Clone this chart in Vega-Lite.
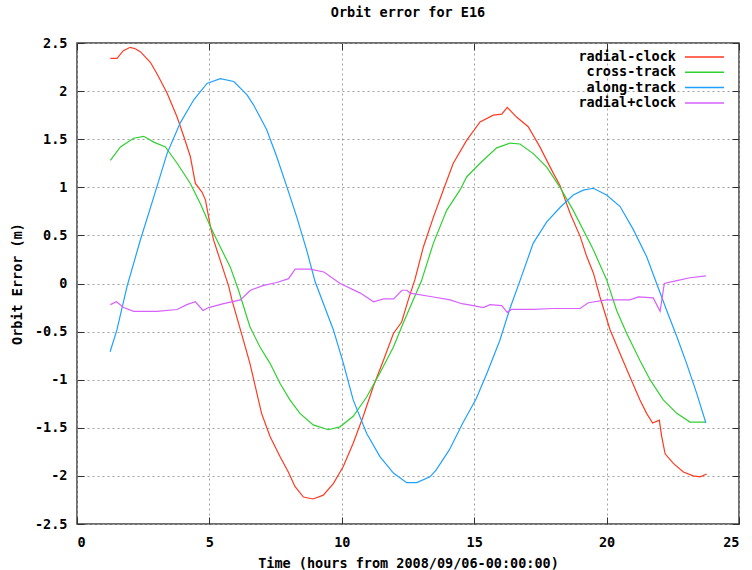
{
  "$schema": "https://vega.github.io/schema/vega-lite/v6.json",
  "width": 662,
  "height": 481,
  "autosize": {"type": "none"},
  "padding": {"left": 77, "top": 43, "right": 13, "bottom": 46},
  "background": "white",
  "title": {
    "text": "Orbit error for E16",
    "font": "DejaVu Sans Mono",
    "fontSize": 13.5,
    "fontWeight": "bold",
    "color": "#000000",
    "anchor": "middle",
    "offset": 17
  },
  "config": {
    "view": {"stroke": "#404040", "strokeWidth": 1.5},
    "axis": {
      "labelFont": "DejaVu Sans Mono",
      "labelFontSize": 13.5,
      "labelFontWeight": "bold",
      "labelColor": "#000000",
      "titleFont": "DejaVu Sans Mono",
      "titleFontSize": 13.5,
      "titleFontWeight": "bold",
      "titleColor": "#000000",
      "domain": false,
      "tickColor": "#303030",
      "tickSize": -7,
      "tickWidth": 1
    },
    "legend": {
      "labelFont": "DejaVu Sans Mono",
      "labelFontSize": 13.5,
      "labelFontWeight": "bold",
      "labelColor": "#000000"
    }
  },
  "data": {
    "values": [
      {"t": 1.26, "v": 2.34, "s": "radial-clock"},
      {"t": 1.51, "v": 2.34, "s": "radial-clock"},
      {"t": 1.75, "v": 2.42, "s": "radial-clock"},
      {"t": 2.01, "v": 2.455, "s": "radial-clock"},
      {"t": 2.2, "v": 2.44, "s": "radial-clock"},
      {"t": 2.39, "v": 2.41, "s": "radial-clock"},
      {"t": 2.77, "v": 2.3, "s": "radial-clock"},
      {"t": 3.02, "v": 2.18, "s": "radial-clock"},
      {"t": 3.4, "v": 1.98, "s": "radial-clock"},
      {"t": 3.78, "v": 1.73, "s": "radial-clock"},
      {"t": 4.03, "v": 1.53, "s": "radial-clock"},
      {"t": 4.28, "v": 1.32, "s": "radial-clock"},
      {"t": 4.47, "v": 1.04, "s": "radial-clock"},
      {"t": 4.72, "v": 0.95, "s": "radial-clock"},
      {"t": 4.85, "v": 0.87, "s": "radial-clock"},
      {"t": 5.04, "v": 0.59, "s": "radial-clock"},
      {"t": 5.16, "v": 0.45, "s": "radial-clock"},
      {"t": 5.41, "v": 0.24, "s": "radial-clock"},
      {"t": 5.73, "v": -0.03, "s": "radial-clock"},
      {"t": 5.85, "v": -0.17, "s": "radial-clock"},
      {"t": 6.17, "v": -0.48, "s": "radial-clock"},
      {"t": 6.53, "v": -0.83, "s": "radial-clock"},
      {"t": 6.97, "v": -1.35, "s": "radial-clock"},
      {"t": 7.29, "v": -1.59, "s": "radial-clock"},
      {"t": 7.67, "v": -1.8, "s": "radial-clock"},
      {"t": 7.98, "v": -1.96, "s": "radial-clock"},
      {"t": 8.23, "v": -2.11, "s": "radial-clock"},
      {"t": 8.55, "v": -2.22, "s": "radial-clock"},
      {"t": 8.92, "v": -2.24, "s": "radial-clock"},
      {"t": 9.3, "v": -2.2, "s": "radial-clock"},
      {"t": 9.68, "v": -2.08, "s": "radial-clock"},
      {"t": 10.06, "v": -1.9, "s": "radial-clock"},
      {"t": 10.43, "v": -1.66, "s": "radial-clock"},
      {"t": 10.81, "v": -1.38, "s": "radial-clock"},
      {"t": 11.19, "v": -1.07, "s": "radial-clock"},
      {"t": 11.57, "v": -0.8, "s": "radial-clock"},
      {"t": 11.95, "v": -0.52, "s": "radial-clock"},
      {"t": 12.26, "v": -0.4, "s": "radial-clock"},
      {"t": 12.51, "v": -0.17, "s": "radial-clock"},
      {"t": 12.76, "v": 0.04, "s": "radial-clock"},
      {"t": 13.08, "v": 0.38, "s": "radial-clock"},
      {"t": 13.46, "v": 0.69, "s": "radial-clock"},
      {"t": 13.83, "v": 0.97, "s": "radial-clock"},
      {"t": 14.21, "v": 1.25, "s": "radial-clock"},
      {"t": 14.72, "v": 1.49, "s": "radial-clock"},
      {"t": 15.22, "v": 1.68, "s": "radial-clock"},
      {"t": 15.72, "v": 1.75, "s": "radial-clock"},
      {"t": 16.04, "v": 1.76, "s": "radial-clock"},
      {"t": 16.25, "v": 1.83, "s": "radial-clock"},
      {"t": 16.6, "v": 1.73, "s": "radial-clock"},
      {"t": 17.04, "v": 1.63, "s": "radial-clock"},
      {"t": 17.48, "v": 1.42, "s": "radial-clock"},
      {"t": 17.98, "v": 1.15, "s": "radial-clock"},
      {"t": 18.24, "v": 1.02, "s": "radial-clock"},
      {"t": 18.62, "v": 0.73, "s": "radial-clock"},
      {"t": 19.0, "v": 0.49, "s": "radial-clock"},
      {"t": 19.25, "v": 0.28, "s": "radial-clock"},
      {"t": 19.5, "v": 0.11, "s": "radial-clock"},
      {"t": 19.75, "v": -0.14, "s": "radial-clock"},
      {"t": 20.13, "v": -0.48, "s": "radial-clock"},
      {"t": 20.51, "v": -0.73, "s": "radial-clock"},
      {"t": 20.88, "v": -0.97, "s": "radial-clock"},
      {"t": 21.26, "v": -1.21, "s": "radial-clock"},
      {"t": 21.51, "v": -1.35, "s": "radial-clock"},
      {"t": 21.74, "v": -1.45, "s": "radial-clock"},
      {"t": 21.99, "v": -1.42, "s": "radial-clock"},
      {"t": 22.08, "v": -1.59, "s": "radial-clock"},
      {"t": 22.21, "v": -1.77, "s": "radial-clock"},
      {"t": 22.52, "v": -1.87, "s": "radial-clock"},
      {"t": 22.9, "v": -1.96, "s": "radial-clock"},
      {"t": 23.27, "v": -2.0, "s": "radial-clock"},
      {"t": 23.53, "v": -2.01, "s": "radial-clock"},
      {"t": 23.78, "v": -1.98, "s": "radial-clock"},

      {"t": 1.26, "v": 1.28, "s": "cross-track"},
      {"t": 1.64, "v": 1.42, "s": "cross-track"},
      {"t": 2.14, "v": 1.51, "s": "cross-track"},
      {"t": 2.52, "v": 1.53, "s": "cross-track"},
      {"t": 2.9, "v": 1.47, "s": "cross-track"},
      {"t": 3.34, "v": 1.42, "s": "cross-track"},
      {"t": 3.78, "v": 1.25, "s": "cross-track"},
      {"t": 4.28, "v": 1.04, "s": "cross-track"},
      {"t": 4.66, "v": 0.83, "s": "cross-track"},
      {"t": 5.04, "v": 0.59, "s": "cross-track"},
      {"t": 5.41, "v": 0.38, "s": "cross-track"},
      {"t": 5.79, "v": 0.17, "s": "cross-track"},
      {"t": 6.1, "v": -0.07, "s": "cross-track"},
      {"t": 6.53, "v": -0.45, "s": "cross-track"},
      {"t": 6.91, "v": -0.66, "s": "cross-track"},
      {"t": 7.29, "v": -0.83, "s": "cross-track"},
      {"t": 7.67, "v": -1.04, "s": "cross-track"},
      {"t": 8.04, "v": -1.21, "s": "cross-track"},
      {"t": 8.42, "v": -1.35, "s": "cross-track"},
      {"t": 8.92, "v": -1.47, "s": "cross-track"},
      {"t": 9.49, "v": -1.52, "s": "cross-track"},
      {"t": 9.93, "v": -1.49, "s": "cross-track"},
      {"t": 10.43, "v": -1.38, "s": "cross-track"},
      {"t": 10.94, "v": -1.18, "s": "cross-track"},
      {"t": 11.44, "v": -0.93, "s": "cross-track"},
      {"t": 11.95, "v": -0.66, "s": "cross-track"},
      {"t": 12.32, "v": -0.41, "s": "cross-track"},
      {"t": 12.7, "v": -0.17, "s": "cross-track"},
      {"t": 13.0, "v": 0.02, "s": "cross-track"},
      {"t": 13.46, "v": 0.42, "s": "cross-track"},
      {"t": 13.96, "v": 0.76, "s": "cross-track"},
      {"t": 14.46, "v": 0.97, "s": "cross-track"},
      {"t": 14.72, "v": 1.11, "s": "cross-track"},
      {"t": 15.22, "v": 1.25, "s": "cross-track"},
      {"t": 15.85, "v": 1.41, "s": "cross-track"},
      {"t": 16.35, "v": 1.46, "s": "cross-track"},
      {"t": 16.73, "v": 1.45, "s": "cross-track"},
      {"t": 17.23, "v": 1.35, "s": "cross-track"},
      {"t": 17.74, "v": 1.21, "s": "cross-track"},
      {"t": 18.24, "v": 1.0, "s": "cross-track"},
      {"t": 18.74, "v": 0.76, "s": "cross-track"},
      {"t": 19.5, "v": 0.35, "s": "cross-track"},
      {"t": 20.0, "v": 0.04, "s": "cross-track"},
      {"t": 20.38, "v": -0.28, "s": "cross-track"},
      {"t": 20.76, "v": -0.52, "s": "cross-track"},
      {"t": 21.26, "v": -0.8, "s": "cross-track"},
      {"t": 21.64, "v": -1.0, "s": "cross-track"},
      {"t": 22.14, "v": -1.21, "s": "cross-track"},
      {"t": 22.65, "v": -1.35, "s": "cross-track"},
      {"t": 23.15, "v": -1.44, "s": "cross-track"},
      {"t": 23.72, "v": -1.44, "s": "cross-track"},

      {"t": 1.25, "v": -0.71, "s": "along-track"},
      {"t": 1.51, "v": -0.48, "s": "along-track"},
      {"t": 1.89, "v": -0.03, "s": "along-track"},
      {"t": 2.39, "v": 0.45, "s": "along-track"},
      {"t": 2.9, "v": 0.9, "s": "along-track"},
      {"t": 3.4, "v": 1.35, "s": "along-track"},
      {"t": 3.9, "v": 1.67, "s": "along-track"},
      {"t": 4.41, "v": 1.91, "s": "along-track"},
      {"t": 4.91, "v": 2.08, "s": "along-track"},
      {"t": 5.41, "v": 2.13, "s": "along-track"},
      {"t": 5.92, "v": 2.1, "s": "along-track"},
      {"t": 6.42, "v": 1.96, "s": "along-track"},
      {"t": 6.66, "v": 1.86, "s": "along-track"},
      {"t": 7.16, "v": 1.6, "s": "along-track"},
      {"t": 7.54, "v": 1.32, "s": "along-track"},
      {"t": 7.92, "v": 1.01, "s": "along-track"},
      {"t": 8.3, "v": 0.69, "s": "along-track"},
      {"t": 8.67, "v": 0.35, "s": "along-track"},
      {"t": 8.99, "v": 0.02, "s": "along-track"},
      {"t": 9.68, "v": -0.48, "s": "along-track"},
      {"t": 10.06, "v": -0.83, "s": "along-track"},
      {"t": 10.43, "v": -1.21, "s": "along-track"},
      {"t": 10.94, "v": -1.56, "s": "along-track"},
      {"t": 11.44, "v": -1.8, "s": "along-track"},
      {"t": 11.95, "v": -1.97, "s": "along-track"},
      {"t": 12.45, "v": -2.07, "s": "along-track"},
      {"t": 12.83, "v": -2.07, "s": "along-track"},
      {"t": 13.33, "v": -2.01, "s": "along-track"},
      {"t": 13.56, "v": -1.94, "s": "along-track"},
      {"t": 14.06, "v": -1.73, "s": "along-track"},
      {"t": 14.57, "v": -1.45, "s": "along-track"},
      {"t": 15.07, "v": -1.2, "s": "along-track"},
      {"t": 15.5, "v": -0.92, "s": "along-track"},
      {"t": 15.97, "v": -0.59, "s": "along-track"},
      {"t": 16.35, "v": -0.26, "s": "along-track"},
      {"t": 16.73, "v": 0.03, "s": "along-track"},
      {"t": 17.23, "v": 0.42, "s": "along-track"},
      {"t": 17.74, "v": 0.64, "s": "along-track"},
      {"t": 18.24, "v": 0.79, "s": "along-track"},
      {"t": 18.74, "v": 0.92, "s": "along-track"},
      {"t": 19.12, "v": 0.97, "s": "along-track"},
      {"t": 19.5, "v": 0.99, "s": "along-track"},
      {"t": 20.0, "v": 0.92, "s": "along-track"},
      {"t": 20.51, "v": 0.8, "s": "along-track"},
      {"t": 21.01, "v": 0.56, "s": "along-track"},
      {"t": 21.51, "v": 0.28, "s": "along-track"},
      {"t": 21.89, "v": 0.0, "s": "along-track"},
      {"t": 22.27, "v": -0.28, "s": "along-track"},
      {"t": 22.65, "v": -0.55, "s": "along-track"},
      {"t": 23.02, "v": -0.83, "s": "along-track"},
      {"t": 23.4, "v": -1.14, "s": "along-track"},
      {"t": 23.75, "v": -1.45, "s": "along-track"},

      {"t": 1.26, "v": -0.22, "s": "radial+clock"},
      {"t": 1.49, "v": -0.19, "s": "radial+clock"},
      {"t": 1.76, "v": -0.25, "s": "radial+clock"},
      {"t": 2.14, "v": -0.29, "s": "radial+clock"},
      {"t": 3.02, "v": -0.29, "s": "radial+clock"},
      {"t": 3.78, "v": -0.27, "s": "radial+clock"},
      {"t": 4.15, "v": -0.22, "s": "radial+clock"},
      {"t": 4.47, "v": -0.19, "s": "radial+clock"},
      {"t": 4.76, "v": -0.28, "s": "radial+clock"},
      {"t": 4.97, "v": -0.25, "s": "radial+clock"},
      {"t": 5.54, "v": -0.21, "s": "radial+clock"},
      {"t": 6.17, "v": -0.17, "s": "radial+clock"},
      {"t": 6.55, "v": -0.07, "s": "radial+clock"},
      {"t": 7.05, "v": -0.02, "s": "radial+clock"},
      {"t": 7.55, "v": 0.01, "s": "radial+clock"},
      {"t": 7.99, "v": 0.05, "s": "radial+clock"},
      {"t": 8.24, "v": 0.15, "s": "radial+clock"},
      {"t": 8.81, "v": 0.15, "s": "radial+clock"},
      {"t": 9.32, "v": 0.12, "s": "radial+clock"},
      {"t": 9.94, "v": 0.0, "s": "radial+clock"},
      {"t": 10.7, "v": -0.1, "s": "radial+clock"},
      {"t": 11.2, "v": -0.19, "s": "radial+clock"},
      {"t": 11.58, "v": -0.16, "s": "radial+clock"},
      {"t": 11.96, "v": -0.16, "s": "radial+clock"},
      {"t": 12.27, "v": -0.07, "s": "radial+clock"},
      {"t": 12.46, "v": -0.07, "s": "radial+clock"},
      {"t": 12.58, "v": -0.1, "s": "radial+clock"},
      {"t": 13.46, "v": -0.14, "s": "radial+clock"},
      {"t": 14.09, "v": -0.17, "s": "radial+clock"},
      {"t": 14.53, "v": -0.21, "s": "radial+clock"},
      {"t": 14.97, "v": -0.23, "s": "radial+clock"},
      {"t": 15.34, "v": -0.25, "s": "radial+clock"},
      {"t": 15.6, "v": -0.22, "s": "radial+clock"},
      {"t": 16.04, "v": -0.23, "s": "radial+clock"},
      {"t": 16.25, "v": -0.3, "s": "radial+clock"},
      {"t": 16.41, "v": -0.27, "s": "radial+clock"},
      {"t": 17.23, "v": -0.27, "s": "radial+clock"},
      {"t": 17.98, "v": -0.26, "s": "radial+clock"},
      {"t": 19.0, "v": -0.26, "s": "radial+clock"},
      {"t": 19.31, "v": -0.2, "s": "radial+clock"},
      {"t": 20.0, "v": -0.17, "s": "radial+clock"},
      {"t": 20.88, "v": -0.17, "s": "radial+clock"},
      {"t": 21.2, "v": -0.14, "s": "radial+clock"},
      {"t": 21.76, "v": -0.15, "s": "radial+clock"},
      {"t": 22.02, "v": -0.29, "s": "radial+clock"},
      {"t": 22.18, "v": 0.0, "s": "radial+clock"},
      {"t": 22.65, "v": 0.03, "s": "radial+clock"},
      {"t": 23.15, "v": 0.06, "s": "radial+clock"},
      {"t": 23.75, "v": 0.08, "s": "radial+clock"}
    ]
  },
  "layer": [
    {
      "mark": {"type": "line", "opacity": 0},
      "encoding": {
        "x": {
          "field": "t",
          "type": "quantitative",
          "scale": {"domain": [0, 25], "nice": false, "zero": false},
          "axis": {
            "orient": "top",
            "title": null,
            "labels": false,
            "grid": false,
            "values": [0, 5, 10, 15, 20, 25]
          }
        },
        "y": {
          "field": "v",
          "type": "quantitative",
          "scale": {"domain": [-2.5, 2.5], "nice": false, "zero": false},
          "axis": {
            "orient": "right",
            "title": null,
            "labels": false,
            "grid": false,
            "values": [-2.5, -2, -1.5, -1, -0.5, 0, 0.5, 1, 1.5, 2, 2.5]
          }
        },
        "detail": {"field": "s", "type": "nominal"}
      }
    },
    {
      "mark": {"type": "line", "strokeWidth": 1.2, "clip": true},
      "encoding": {
        "x": {
          "field": "t",
          "type": "quantitative",
          "scale": {"domain": [0, 25], "nice": false, "zero": false},
          "axis": {
            "orient": "bottom",
            "title": "Time (hours from 2008/09/06-00:00:00)",
            "values": [0, 5, 10, 15, 20, 25],
            "labelExpr": "'' + datum.value",
            "grid": true,
            "gridColor": "#a0a0a0",
            "gridDash": [2, 3],
            "gridWidth": 1,
            "labelPadding": 18,
            "titlePadding": 8
          }
        },
        "y": {
          "field": "v",
          "type": "quantitative",
          "scale": {"domain": [-2.5, 2.5], "nice": false, "zero": false},
          "axis": {
            "orient": "left",
            "title": "Orbit Error (m)",
            "values": [-2.5, -2, -1.5, -1, -0.5, 0, 0.5, 1, 1.5, 2, 2.5],
            "labelExpr": "'' + datum.value",
            "grid": true,
            "gridColor": "#a0a0a0",
            "gridDash": [2, 3],
            "gridWidth": 1,
            "labelPadding": 17,
            "titlePadding": 10
          }
        },
        "color": {
          "field": "s",
          "type": "nominal",
          "scale": {
            "domain": ["radial-clock", "cross-track", "along-track", "radial+clock"],
            "range": ["#ff3a20", "#30d030", "#20a0ff", "#d860ff"]
          },
          "legend": {
            "title": null,
            "orient": "none",
            "legendX": 620,
            "legendY": 6.5,
            "symbolType": "M-3,0H3",
            "symbolSize": 169,
            "symbolStrokeWidth": 1.5,
            "labelAlign": "right",
            "labelOffset": -36,
            "rowPadding": 1.3
          }
        }
      }
    }
  ],
  "resolve": {"axis": {"x": "independent", "y": "independent"}}
}
